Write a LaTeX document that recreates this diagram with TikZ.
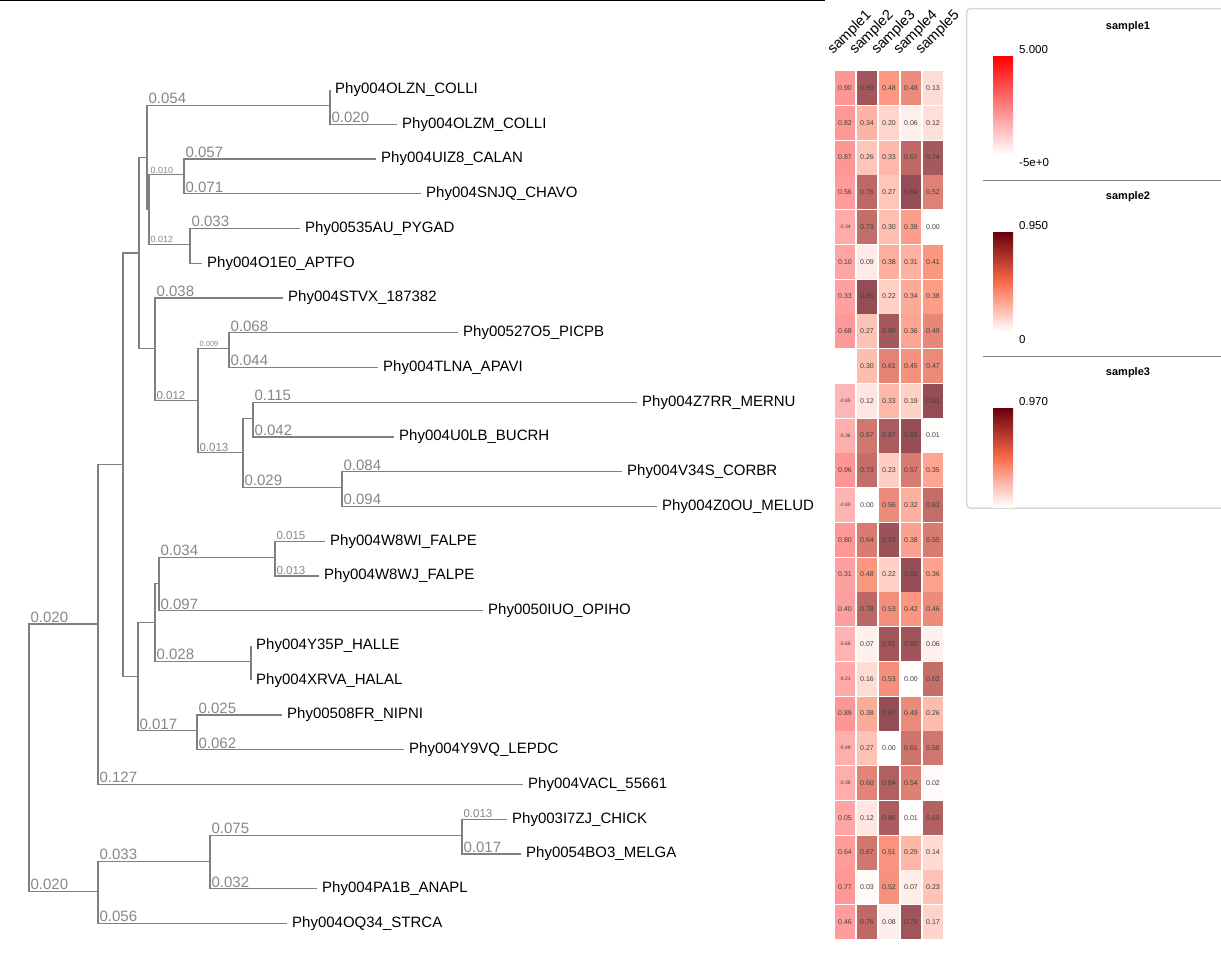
\documentclass[tikz,border=0pt]{standalone}
\usepackage{fontspec}
\setmainfont{Liberation Sans}

\definecolor{brgray}{RGB}{128,128,128}
\definecolor{labgray}{RGB}{135,135,135}
\definecolor{hmmid}{RGB}{251,106,74}
\definecolor{hmdark}{RGB}{103,0,13}
\definecolor{hmred}{RGB}{255,0,0}
\definecolor{boxgray}{RGB}{215,215,215}

\newcommand\hmshade[2]{%
  \pgfmathtruncatemacro\hmp{max(0,min(200,round(200*(#1)/(#2))))}%
  \ifnum\hmp>100 \pgfmathtruncatemacro\hmq{\hmp-100}\colorlet{hmc}{hmdark!\hmq!hmmid}%
  \else\colorlet{hmc}{hmmid!\hmp!white}\fi}
\newcommand\hmredshade[1]{%
  \pgfmathtruncatemacro\hmp{max(0,min(100,round(10*(#1+5))))}%
  \colorlet{hmc}{hmred!\hmp!white}}
\newcommand\hmval[1]{\ifdim #1pt<0pt \fontsize{5}{6}\selectfont\else\fontsize{7}{8}\selectfont\fi #1}

\begin{document}
\begin{tikzpicture}[x=1pt,y=-1pt]
\tikzstyle{brline}=[draw=brgray, line width=1.2pt]
\tikzstyle{blab}=[anchor=south west, inner sep=1pt, text=labgray, font=\fontsize{15}{18}\selectfont]
\tikzstyle{bmid}=[blab, font=\fontsize{11.5}{13}\selectfont]
\tikzstyle{bsmall}=[blab, font=\fontsize{9}{11}\selectfont]
\tikzstyle{btiny}=[blab, font=\fontsize{7.5}{9}\selectfont]
\tikzstyle{leaf}=[anchor=west, inner sep=5pt, yshift=-1.5pt, font=\fontsize{15}{18}\selectfont]
\tikzstyle{hmcell}=[minimum width=20pt, minimum height=34pt, inner sep=0pt, fill opacity=.7, text opacity=1, text=black!75]
\tikzstyle{hdr}=[rotate=45, anchor=base west, inner sep=0pt, font=\fontsize{14.5}{16}\selectfont]
\tikzstyle{ltitle}=[font=\bfseries\fontsize{11}{13}\selectfont]
\tikzstyle{ltext}=[anchor=west, inner sep=0pt, font=\fontsize{11.5}{13}\selectfont]
\useasboundingbox (0,0) rectangle (1221,954);
\draw[line width=1.2pt] (0,0.6) -- (825,0.6);

\coordinate (R0) at (29,757.75);
\coordinate (nA) at (98,623.91);
\coordinate (nU) at (98,891.6);
\coordinate (nB) at (123,464.82);
\coordinate (nC) at (139,253.06);
\coordinate (nD) at (138,676.58);
\coordinate (nE) at (147,157.5);
\coordinate (nF) at (155,348.63);
\coordinate (nG) at (330,105.38);
\coordinate (nH) at (149,209.63);
\coordinate (nI) at (184,174.88);
\coordinate (nJ) at (190,244.38);
\coordinate (nK) at (198,400.75);
\coordinate (nL) at (229,348.63);
\coordinate (nM) at (243,452.88);
\coordinate (nN) at (253,418.13);
\coordinate (nO) at (342,487.63);
\coordinate (nP) at (155,622.28);
\coordinate (nR) at (159,583.19);
\coordinate (nT) at (275,557.13);
\coordinate (nS) at (251,661.38);
\coordinate (nQ) at (197,730.88);
\coordinate (nV) at (210,861.19);
\coordinate (nW) at (462,835.13);

\node[leaf] (OLZN) at (330,88) {Phy004OLZN\_COLLI};
\node[leaf] (OLZM) at (397,122.75) {Phy004OLZM\_COLLI};
\node[leaf] (UIZ8) at (376,157.5) {Phy004UIZ8\_CALAN};
\node[leaf] (SNJQ) at (421,192.25) {Phy004SNJQ\_CHAVO};
\node[leaf] (AU535) at (300,227) {Phy00535AU\_PYGAD};
\node[leaf] (O1E0) at (202,261.75) {Phy004O1E0\_APTFO};
\node[leaf] (STVX) at (283,296.5) {Phy004STVX\_187382};
\node[leaf] (PICPB) at (458,331.25) {Phy00527O5\_PICPB};
\node[leaf] (TLNA) at (378,366) {Phy004TLNA\_APAVI};
\node[leaf] (MERNU) at (637,400.75) {Phy004Z7RR\_MERNU};
\node[leaf] (U0LB) at (394,435.5) {Phy004U0LB\_BUCRH};
\node[leaf] (V34S) at (622,470.25) {Phy004V34S\_CORBR};
\node[leaf] (Z0OU) at (657,505) {Phy004Z0OU\_MELUD};
\node[leaf] (W8WI) at (325,539.75) {Phy004W8WI\_FALPE};
\node[leaf] (W8WJ) at (319,574.5) {Phy004W8WJ\_FALPE};
\node[leaf] (OPIHO) at (483,609.25) {Phy0050IUO\_OPIHO};
\node[leaf] (HALLE) at (251,644) {Phy004Y35P\_HALLE};
\node[leaf] (HALAL) at (251,678.75) {Phy004XRVA\_HALAL};
\node[leaf] (NIPNI) at (282,713.5) {Phy00508FR\_NIPNI};
\node[leaf] (LEPDC) at (404,748.25) {Phy004Y9VQ\_LEPDC};
\node[leaf] (VACL) at (523,783) {Phy004VACL\_55661};
\node[leaf] (CHICK) at (507,817.75) {Phy003I7ZJ\_CHICK};
\node[leaf] (MELGA) at (521,852.5) {Phy0054BO3\_MELGA};
\node[leaf] (ANAPL) at (317,887.25) {Phy004PA1B\_ANAPL};
\node[leaf] (STRCA) at (287,922) {Phy004OQ34\_STRCA};

\draw[brline] (R0) |- (nA) node[pos=.5,blab] {0.020};
\draw[brline] (R0) |- (nU) node[pos=.5,blab] {0.020};
\draw[brline] (nA) |- (nB);
\draw[brline] (nA) |- (VACL.west) node[pos=.5,blab] {0.127};
\draw[brline] (nB) |- (nC);
\draw[brline] (nB) |- (nD);
\draw[brline] (nC) |- (nE);
\draw[brline] (nC) |- (nF);
\draw[brline] (nE) |- (nG) node[pos=.5,blab] {0.054};
\draw[brline] (nE) |- (nH);
\draw[brline] (nG) |- (OLZN.west);
\draw[brline] (nG) |- (OLZM.west) node[pos=.5,blab] {0.020};
\draw[brline] (nH) |- (nI) node[pos=.5,bsmall] {0.010};
\draw[brline] (nH) |- (nJ) node[pos=.5,bsmall] {0.012};
\draw[brline] (nI) |- (UIZ8.west) node[pos=.5,blab] {0.057};
\draw[brline] (nI) |- (SNJQ.west) node[pos=.5,blab] {0.071};
\draw[brline] (nJ) |- (AU535.west) node[pos=.5,blab] {0.033};
\draw[brline] (nJ) |- (O1E0.west);
\draw[brline] (nF) |- (STVX.west) node[pos=.5,blab] {0.038};
\draw[brline] (nF) |- (nK) node[pos=.5,bmid] {0.012};
\draw[brline] (nK) |- (nL) node[pos=.5,btiny] {0.009};
\draw[brline] (nK) |- (nM) node[pos=.5,bmid] {0.013};
\draw[brline] (nL) |- (PICPB.west) node[pos=.5,blab] {0.068};
\draw[brline] (nL) |- (TLNA.west) node[pos=.5,blab] {0.044};
\draw[brline] (nM) |- (nN);
\draw[brline] (nM) |- (nO) node[pos=.5,blab] {0.029};
\draw[brline] (nN) |- (MERNU.west) node[pos=.5,blab] {0.115};
\draw[brline] (nN) |- (U0LB.west) node[pos=.5,blab] {0.042};
\draw[brline] (nO) |- (V34S.west) node[pos=.5,blab] {0.084};
\draw[brline] (nO) |- (Z0OU.west) node[pos=.5,blab] {0.094};
\draw[brline] (nD) |- (nP);
\draw[brline] (nD) |- (nQ) node[pos=.5,blab] {0.017};
\draw[brline] (nP) |- (nR);
\draw[brline] (nP) |- (nS) node[pos=.5,blab] {0.028};
\draw[brline] (nR) |- (nT) node[pos=.5,blab] {0.034};
\draw[brline] (nR) |- (OPIHO.west) node[pos=.5,blab] {0.097};
\draw[brline] (nT) |- (W8WI.west) node[pos=.5,bmid] {0.015};
\draw[brline] (nT) |- (W8WJ.west) node[pos=.5,bmid] {0.013};
\draw[brline] (nS) |- (HALLE.west);
\draw[brline] (nS) |- (HALAL.west);
\draw[brline] (nQ) |- (NIPNI.west) node[pos=.5,blab] {0.025};
\draw[brline] (nQ) |- (LEPDC.west) node[pos=.5,blab] {0.062};
\draw[brline] (nU) |- (nV) node[pos=.5,blab] {0.033};
\draw[brline] (nU) |- (STRCA.west) node[pos=.5,blab] {0.056};
\draw[brline] (nV) |- (nW) node[pos=.5,blab] {0.075};
\draw[brline] (nV) |- (ANAPL.west) node[pos=.5,blab] {0.032};
\draw[brline] (nW) |- (CHICK.west) node[pos=.5,bmid] {0.013};
\draw[brline] (nW) |- (MELGA.west) node[pos=.5,blab] {0.017};

\foreach \k in {1,...,5}
  \node[hdr] (h\k) at (811+22*\k,55) {sample\k};

\foreach \va/\vb/\vc/\vd/\ve [count=\i] in {
  0.90/0.89/0.48/0.48/0.13, 0.82/0.34/0.20/0.06/0.12, 0.87/0.26/0.33/0.67/0.74,
  0.56/0.76/0.27/0.84/0.52, -0.34/0.73/0.30/0.39/0.00, 0.10/0.09/0.38/0.31/0.41,
  0.33/0.95/0.22/0.34/0.38, 0.68/0.27/0.89/0.36/0.49, 99/0.30/0.61/0.45/0.47,
  -0.85/0.12/0.33/0.19/0.81, -0.36/0.67/0.87/0.83/0.01, 0.96/0.73/0.23/0.57/0.35,
  -0.80/0.00/0.56/0.32/0.63, 0.80/0.64/0.93/0.38/0.55, 0.31/0.48/0.22/0.83/0.36,
  0.40/0.78/0.53/0.42/0.46, -0.68/0.07/0.91/0.80/0.06, -0.21/0.16/0.53/0.00/0.62,
  0.89/0.38/0.97/0.49/0.26, -0.49/0.27/0.00/0.61/0.58, -0.38/0.60/0.84/0.54/0.02,
  0.05/0.12/0.86/0.01/0.69, 0.64/0.67/0.51/0.29/0.14, 0.77/0.03/0.52/0.07/0.23,
  0.46/0.76/0.08/0.79/0.17}{
  \pgfmathsetmacro\yy{88+34.75*(\i-1)}
  \ifdim\va pt<50pt
    \hmredshade{\va}
    \node[hmcell,fill=hmc] (c\i-1) at (845,\yy) {\hmval{\va}};
  \fi
  \foreach \v/\k/\m in {\vb/2/0.95,\vc/3/0.97,\vd/4/0.84,\ve/5/0.81}{
    \hmshade{\v}{\m}
    \node[hmcell,fill=hmc] (c\i-\k) at (823+22*\k,\yy) {\hmval{\v}};
  }
}

\begin{scope}
\clip (0,0) rectangle (1221,954);
\draw[boxgray, line width=1.5pt, rounded corners=4pt] (966.5,8.5) rectangle (1240,508);
\end{scope}
\draw[brgray, line width=1pt] (983,180.5) -- (1221,180.5);
\draw[brgray, line width=1pt] (983,356.5) -- (1221,356.5);
\node[ltitle] (t1) at (1128,27) {sample1};
\node[ltitle] (t2) at (1128,197) {sample2};
\node[ltitle] (t3) at (1128,373) {sample3};
\shade[top color=hmred, bottom color=white] (993,56) rectangle (1013,155);
\shade[top color=hmdark, bottom color=white, middle color=hmmid] (993,232) rectangle (1013,332);
\shade[top color=hmdark, bottom color=white, middle color=hmmid] (993,408) rectangle (1013,507);
\node[ltext] (l1a) at (1019,50) {5.000};
\node[ltext] (l1b) at (1019,163) {-5e+0};
\node[ltext] (l2a) at (1019,226) {0.950};
\node[ltext] (l2b) at (1019,340) {0};
\node[ltext] (l3a) at (1019,402) {0.970};
\end{tikzpicture}
\end{document}
